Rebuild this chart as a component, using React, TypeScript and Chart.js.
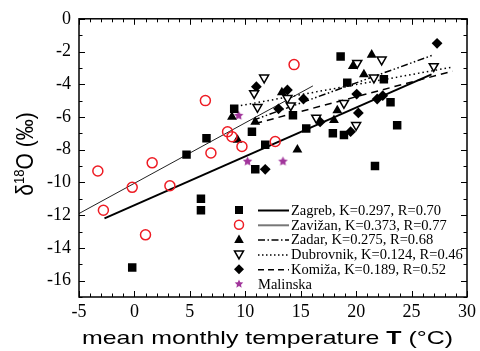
import React, { useEffect, useRef } from "react";
import { Chart, registerables } from "chart.js";
Chart.register(...registerables);

// ---- data (T in °C, δ18O in ‰) ----
const zagrebT = [-0.2, 4.7, 6.0, 6.0, 6.5, 9.0, 10.6, 10.9, 11.8, 14.3, 15.5, 17.9, 18.9, 18.6, 19.2, 21.7, 22.5, 23.1, 23.7];
const zagrebD = [-15.2, -8.3, -11.0, -11.7, -7.3, -5.5, -6.9, -9.2, -7.7, -5.9, -6.7, -7.0, -7.1, -2.3, -3.9, -9.0, -3.7, -5.1, -6.5];

const zavizanT = [-3.3, -2.8, -0.2, 1.0, 1.6, 3.2, 6.4, 6.9, 8.4, 8.8, 9.7, 12.7, 14.4];
const zavizanD = [-9.3, -11.7, -10.3, -13.2, -8.8, -10.2, -5.0, -8.2, -6.9, -7.2, -7.8, -7.5, -2.8];

const zadarT = [8.8, 9.3, 10.9, 13.3, 14.7, 18.0, 18.3, 19.7, 20.7, 21.4];
const zadarD = [-6.0, -7.4, -6.3, -4.5, -8.0, -6.2, -5.6, -2.9, -3.4, -2.2];

const dubrovnikT = [10.8, 11.1, 11.7, 13.8, 14.1, 16.4, 18.9, 20.0, 20.1, 21.6, 22.3, 27.0];
const dubrovnikD = [-4.55, -5.4, -3.6, -4.85, -5.3, -6.05, -5.15, -6.5, -2.7, -3.6, -2.5, -2.9];

const komizaT = [11.0, 11.8, 13.0, 13.8, 15.25, 16.75, 19.5, 20.05, 20.2, 21.9, 22.4, 27.3];
const komizaD = [-4.15, -9.2, -5.5, -4.35, -4.9, -6.3, -6.9, -4.6, -5.75, -4.9, -4.7, -1.5];

const malinskaT = [9.4, 10.2, 13.4];
const malinskaD = [-5.9, -8.7, -8.7];

// regression line end points
const zagrebFitT = [-2.7, 26.8];
const zagrebFitD = [-12.2, -3.4];
const zavizanFitT = [-5, 16.1];
const zavizanFitD = [-11.9, -4.1];
const zadarFitT = [10.7, 27.0];
const zadarFitD = [-6.2, -2.2];
const dubrovnikFitT = [9.2, 28.7];
const dubrovnikFitD = [-5.35, -2.95];
const komizaFitT = [10.9, 28.7];
const komizaFitD = [-6.4, -3.2];

const legendLabels = [
  "Zagreb, K=0.297, R=0.70",
  "Zavižan, K=0.373, R=0.77",
  "Zadar, K=0.275, R=0.68",
  "Dubrovnik, K=0.124, R=0.46",
  "Komiža, K=0.189, R=0.52",
  "Malinska",
];

const xTickValues = [-5, 0, 5, 10, 15, 20, 25, 30];

const SERIF = "'Liberation Serif', 'Times New Roman', serif";
const SANS = "'Liberation Sans', Arial, sans-serif";
const RED = "#ee1c24";
const PURPLE = "#a1359b";

const zip = (a: number[], b: number[]) => a.map((v, i) => ({ x: v, y: b[i] }));

function starPath(ctx: CanvasRenderingContext2D, cx: number, cy: number, R: number, r: number) {
  ctx.beginPath();
  for (let i = 0; i < 10; i++) {
    const rad = i % 2 === 0 ? R : r;
    const a = -Math.PI / 2 + (i * Math.PI) / 5;
    const px = cx + rad * Math.cos(a);
    const py = cy + rad * Math.sin(a);
    if (i === 0) ctx.moveTo(px, py);
    else ctx.lineTo(px, py);
  }
  ctx.closePath();
}

function makeStar(): HTMLCanvasElement {
  const c = document.createElement("canvas");
  c.width = 11;
  c.height = 11;
  const ctx = c.getContext("2d")!;
  starPath(ctx, 5.5, 5.8, 5, 2.4);
  ctx.fillStyle = PURPLE;
  ctx.fill();
  return c;
}

type Kind = "square" | "circle" | "tri" | "triDown" | "diamond" | "star";

function drawMarker(ctx: CanvasRenderingContext2D, kind: Kind, x: number, y: number) {
  ctx.save();
  ctx.setLineDash([]);
  ctx.fillStyle = "#000";
  ctx.strokeStyle = "#000";
  if (kind === "square") {
    ctx.fillRect(x - 4, y - 4, 8, 8);
  } else if (kind === "circle") {
    ctx.beginPath();
    ctx.arc(x, y, 4.5, 0, Math.PI * 2);
    ctx.strokeStyle = RED;
    ctx.lineWidth = 1.5;
    ctx.stroke();
  } else if (kind === "tri") {
    ctx.beginPath();
    ctx.moveTo(x, y - 5);
    ctx.lineTo(x + 4.8, y + 3.5);
    ctx.lineTo(x - 4.8, y + 3.5);
    ctx.closePath();
    ctx.fill();
  } else if (kind === "triDown") {
    ctx.beginPath();
    ctx.moveTo(x, y + 4.5);
    ctx.lineTo(x + 4.5, y - 3.5);
    ctx.lineTo(x - 4.5, y - 3.5);
    ctx.closePath();
    ctx.fillStyle = "#fff";
    ctx.fill();
    ctx.lineWidth = 1.5;
    ctx.stroke();
  } else if (kind === "diamond") {
    ctx.beginPath();
    ctx.moveTo(x, y - 5);
    ctx.lineTo(x + 5, y);
    ctx.lineTo(x, y + 5);
    ctx.lineTo(x - 5, y);
    ctx.closePath();
    ctx.fill();
  } else {
    starPath(ctx, x, y, 4.5, 2.1);
    ctx.fillStyle = PURPLE;
    ctx.fill();
  }
  ctx.restore();
}

const legendKinds: Kind[] = ["square", "circle", "tri", "triDown", "diamond", "star"];
const legendLines: { dash: number[]; color: string; width: number }[] = [
  { dash: [], color: "#000", width: 2 },
  { dash: [], color: "#777", width: 2 },
  { dash: [7, 2.5, 1.5, 2.5], color: "#000", width: 1.5 },
  { dash: [1.5, 2.5], color: "#000", width: 1.5 },
  { dash: [6, 4], color: "#000", width: 1.5 },
];

const decorPlugin = {
  id: "decor",
  afterDraw(chart: any) {
    const ctx: CanvasRenderingContext2D = chart.ctx;
    const { left, right, top, bottom } = chart.chartArea;
    const xs = chart.scales.x;
    const ys = chart.scales.y;
    ctx.save();
    ctx.setLineDash([]);
    ctx.strokeStyle = "#000";
    // ticks (inward, all four sides)
    ctx.lineWidth = 1;
    for (let t = -5; t <= 30; t++) {
      const px = Math.round(xs.getPixelForValue(t)) + 0.5;
      const len = t % 5 === 0 ? 6 : 3.5;
      ctx.beginPath();
      ctx.moveTo(px, bottom);
      ctx.lineTo(px, bottom - len);
      ctx.moveTo(px, top);
      ctx.lineTo(px, top + len);
      ctx.stroke();
    }
    for (let v = -17; v <= 0; v++) {
      const py = Math.round(ys.getPixelForValue(v)) + 0.5;
      const len = v % 2 === 0 ? 6 : 3.5;
      ctx.beginPath();
      ctx.moveTo(left, py);
      ctx.lineTo(left + len, py);
      ctx.moveTo(right, py);
      ctx.lineTo(right - len, py);
      ctx.stroke();
    }
    // frame
    ctx.lineWidth = 1.5;
    ctx.strokeRect(left, top, right - left, bottom - top);

    // x title
    ctx.fillStyle = "#000";
    ctx.textBaseline = "alphabetic";
    const p1 = "mean monthly temperature ";
    const p2 = "T";
    const p3 = " (°C)";
    const fs = 19;
    ctx.font = `${fs}px ${SANS}`;
    const w1 = ctx.measureText(p1).width;
    const w3 = ctx.measureText(p3).width;
    ctx.font = `bold ${fs}px ${SANS}`;
    const w2 = ctx.measureText(p2).width;
    const total = w1 + w2 + w3;
    const targetW = 371;
    const sx = targetW / total;
    ctx.save();
    ctx.translate(267.5 - targetW / 2, 343.5);
    ctx.scale(sx, 1);
    ctx.textAlign = "left";
    ctx.font = `${fs}px ${SANS}`;
    ctx.fillText(p1, 0, 0);
    ctx.font = `bold ${fs}px ${SANS}`;
    ctx.fillText(p2, w1, 0);
    ctx.font = `${fs}px ${SANS}`;
    ctx.fillText(p3, w1 + w2, 0);
    ctx.restore();

    // y title
    const yfs = 21;
    ctx.font = `${yfs}px ${SANS}`;
    const a = "δ";
    const c = "O (‰)";
    const wa = ctx.measureText(a).width;
    const wc = ctx.measureText(c).width;
    ctx.font = `${Math.round(yfs * 0.62)}px ${SANS}`;
    const b = "18";
    const wb = ctx.measureText(b).width;
    const ytot = wa + wb + wc;
    ctx.save();
    ctx.translate(33, 154);
    ctx.rotate(-Math.PI / 2);
    ctx.scale(1, 1.15);
    let cx = -ytot / 2;
    ctx.textAlign = "left";
    ctx.font = `${yfs}px ${SANS}`;
    ctx.fillText(a, cx, 0);
    cx += wa;
    ctx.font = `${Math.round(yfs * 0.62)}px ${SANS}`;
    ctx.fillText(b, cx, -8);
    cx += wb;
    ctx.font = `${yfs}px ${SANS}`;
    ctx.fillText(c, cx, 0);
    ctx.restore();

    // legend
    const rowY0 = 210;
    const rowDy = 14.8;
    ctx.font = `14.5px ${SERIF}`;
    ctx.textBaseline = "middle";
    ctx.textAlign = "left";
    legendLabels.forEach((lab, i) => {
      const y = rowY0 + i * rowDy;
      drawMarker(ctx, legendKinds[i], 239, y);
      if (i < legendLines.length) {
        const st = legendLines[i];
        ctx.save();
        ctx.strokeStyle = st.color;
        ctx.lineWidth = st.width;
        ctx.setLineDash(st.dash);
        ctx.beginPath();
        ctx.moveTo(258, y + 0.5);
        ctx.lineTo(289, y + 0.5);
        ctx.stroke();
        ctx.restore();
        ctx.fillStyle = "#000";
        ctx.fillText(lab, 291, y + 1);
      } else {
        ctx.fillStyle = "#000";
        ctx.fillText(lab, 258, y + 1);
      }
    });
    ctx.restore();
  },
};

export default function App() {
  const ref = useRef<HTMLCanvasElement | null>(null);
  useEffect(() => {
    if (!ref.current) return;
    const star = makeStar();
    const lineDs = (t: number[], d: number[], color: string, width: number, dash: number[]) => ({
      data: zip(t, d),
      showLine: true,
      pointRadius: 0,
      borderColor: color,
      borderWidth: width,
      borderDash: dash,
      backgroundColor: color,
      order: 2,
    });
    const chart = new Chart(ref.current, {
      type: "scatter",
      data: {
        datasets: [
          { data: zip(zagrebT, zagrebD), pointStyle: "rect", pointRadius: 6, backgroundColor: "#000", borderColor: "#000", borderWidth: 0, order: 1 },
          { data: zip(zavizanT, zavizanD), pointStyle: "circle", pointRadius: 5, backgroundColor: "rgba(0,0,0,0)", borderColor: RED, borderWidth: 1.5, order: 1 },
          { data: zip(zadarT, zadarD), pointStyle: "triangle", pointRadius: 5.7, backgroundColor: "#000", borderColor: "#000", borderWidth: 0, order: 1 },
          { data: zip(dubrovnikT, dubrovnikD), pointStyle: "triangle", rotation: 180, pointRadius: 5.2, backgroundColor: "#fff", borderColor: "#000", borderWidth: 1.5, order: 1 },
          { data: zip(komizaT, komizaD), pointStyle: "rectRot", pointRadius: 5.4, backgroundColor: "#000", borderColor: "#000", borderWidth: 0, order: 1 },
          { data: zip(malinskaT, malinskaD), pointStyle: star, pointRadius: 5, backgroundColor: PURPLE, borderColor: PURPLE, order: 1 },
          lineDs(zagrebFitT, zagrebFitD, "#000", 2, []),
          lineDs(zavizanFitT, zavizanFitD, "#222", 1, []),
          lineDs(zadarFitT, zadarFitD, "#000", 1.5, [7, 2.5, 1.5, 2.5, 1.5, 2.5]),
          lineDs(dubrovnikFitT, dubrovnikFitD, "#000", 1.5, [1.5, 3]),
          lineDs(komizaFitT, komizaFitD, "#000", 1.5, [7, 5]),
        ] as any,
      },
      options: {
        animation: false,
        responsive: false,
        events: [],
        layout: { padding: { top: 14, right: 12, left: 0, bottom: 0 } },
        plugins: { legend: { display: false }, tooltip: { enabled: false } },
        scales: {
          x: {
            type: "linear",
            min: -5,
            max: 30,
            afterFit: (s: any) => { s.height = 54; },
            afterBuildTicks: (s: any) => { s.ticks = xTickValues.map((v) => ({ value: v })); },
            grid: { display: false, drawTicks: false },
            border: { display: false },
            ticks: { color: "#000", font: { family: SERIF, size: 18 }, padding: 4, maxRotation: 0 },
          },
          y: {
            type: "linear",
            min: -17,
            max: 0,
            afterFit: (s: any) => { s.width = 79; },
            grid: { display: false, drawTicks: false },
            border: { display: false },
            ticks: { color: "#000", font: { family: SERIF, size: 18 }, padding: 8, stepSize: 2, includeBounds: false },
          },
        },
      },
      plugins: [decorPlugin],
    });
    return () => chart.destroy();
  }, []);
  return (
    <div style={{ position: "fixed", left: 0, top: 0, width: 480, height: 351, background: "#fff" }}>
      <canvas ref={ref} width={480} height={351} style={{ display: "block", width: 480, height: 351 }} />
    </div>
  );
}
